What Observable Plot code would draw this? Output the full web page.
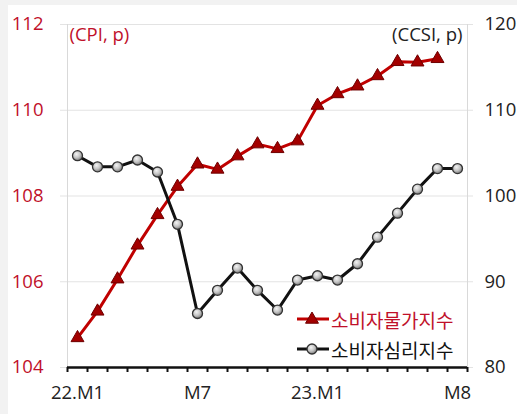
<!DOCTYPE html>
<html>
<head>
<meta charset="utf-8">
<script src="https://cdn.jsdelivr.net/npm/d3@7"></script>
<script src="https://cdn.jsdelivr.net/npm/@observablehq/plot@0.6"></script>
<style>
  html, body { margin: 0; padding: 0; background: #f2f2f2; width: 517px; height: 414px; overflow: hidden; }
  #wrap { position: absolute; left: 8px; top: 5px; width: 509px; height: 409px; background: #fff; }
  #legend { position: absolute; left: 289px; top: 304px; font-family: "Noto Sans CJK KR", sans-serif; font-size: 19px; }
  .row { display: flex; align-items: center; height: 30px; }
  .row svg { margin-right: 2px; }
</style>
</head>
<body>
<div id="wrap"></div>
<div id="legend"></div>
<script>
// ---- data ----
const months = ["22.M1","M2","M3","M4","M5","M6","M7","M8","M9","M10","M11","M12","23.M1","M2","M3","M4","M5","M6","M7","M8"];
const labelMonths = [0, 6, 12, 19];           // indices of months whose label is shown
const cpi  = [104.69,105.31,106.06,106.85,107.56,108.22,108.74,108.62,108.93,109.21,109.10,109.28,110.11,110.38,110.56,110.80,111.13,111.12,111.20,null];
const ccsi = [104.7,103.4,103.4,104.2,102.8,96.7,86.3,89.0,91.6,89.0,86.7,90.2,90.7,90.2,92.1,95.2,98.0,100.8,103.2,103.2];
const leftTicks  = [104,106,108,110,112];
const rightTicks = [80,90,100,110,120];
const seriesNames = ["소비자물가지수","소비자심리지수"];
const unitLabels = ["(CPI, p)","(CCSI, p)"];

const RED = "#c00000";
const RED_TXT = "#c0102a";
// map right-axis (CCSI) values onto the left (CPI) scale
const r2l = v => leftTicks[0] + (v - rightTicks[0]) * (leftTicks[4]-leftTicks[0]) / (rightTicks[4]-rightTicks[0]);

const cpiRows  = cpi.map((v,i) => ({i, v})).filter(d => d.v != null);
const ccsiRows = ccsi.map((v,i) => ({i, v: r2l(v)}));
const boundaries = d3.range(months.length + 1).map(k => k - 0.5);

const chart = Plot.plot({
  width: 509, height: 409,
  marginLeft: 59, marginRight: 50, marginTop: 19, marginBottom: 47,
  x: {type: "linear", domain: [-0.5, months.length - 0.5], axis: null},
  y: {domain: [leftTicks[0], leftTicks[4]], axis: null},
  style: {fontFamily: "'Open Sans', 'Noto Sans CJK KR', sans-serif", fontSize: "18.5px", background: "white", overflow: "visible"},
  marks: [
    Plot.ruleY(leftTicks.slice(1), {stroke: "#e3e3e3", strokeWidth: 1}),
    Plot.ruleX([boundaries[0], boundaries[boundaries.length-1]], {stroke: "#d9d9d9", strokeWidth: 1}),
    Plot.axisY({anchor: "left", ticks: leftTicks, tickSize: 7, tickPadding: 17, stroke: "#e3e3e3", fill: RED_TXT, label: null}),
    Plot.axisY({anchor: "right", ticks: leftTicks, tickFormat: (d,k) => rightTicks[k], tickSize: 5, tickPadding: 12, stroke: "#e3e3e3", fill: "#222", label: null}),
    Plot.axisX({ticks: boundaries, tickSize: 5, tickFormat: () => "", stroke: "#111", strokeWidth: 2, label: null}),
    Plot.axisX({ticks: labelMonths, tickFormat: i => months[i], tickSize: 0, tickPadding: 18, fill: "#222", label: null}),
    Plot.ruleY([leftTicks[0]], {stroke: "#111", strokeWidth: 2.5}),
    Plot.line(cpiRows, {x: "i", y: "v", stroke: RED, strokeWidth: 3}),
    Plot.dot(cpiRows, {x: "i", y: "v", symbol: "triangle", r: 4.8, fill: "#a30000", stroke: "#6e0000", strokeWidth: 1}),
    Plot.line(ccsiRows, {x: "i", y: "v", stroke: "#111", strokeWidth: 3}),
    Plot.dot(ccsiRows, {x: "i", y: "v", symbol: "circle", r: 5, fill: "#999999", stroke: "#333", strokeWidth: 1.3}),
    Plot.text([unitLabels[0]], {frameAnchor: "top-left", textAnchor: "start", lineAnchor: "middle", dx: 2, dy: 11, fill: RED_TXT, fontSize: 18.5}),
    Plot.text([unitLabels[1]], {frameAnchor: "top-right", textAnchor: "end", lineAnchor: "middle", dx: -5, dy: 11, fill: "#222", fontSize: 18.5})
  ]
});

// radial gradient for the grey ball markers
const defs = d3.select(chart).insert("defs", ":first-child");
const g = defs.append("radialGradient").attr("id", "ballGrad").attr("cx", "40%").attr("cy", "35%").attr("r", "65%");
g.append("stop").attr("offset", "0%").attr("stop-color", "#f4f4f4");
g.append("stop").attr("offset", "55%").attr("stop-color", "#c4c4c4");
g.append("stop").attr("offset", "100%").attr("stop-color", "#7c7c7c");
chart.querySelectorAll('g[aria-label="dot"]').forEach(gr => {
  if (gr.querySelector("circle")) gr.setAttribute("fill", "url(#ballGrad)");
});
document.getElementById("wrap").appendChild(chart);

// legend
const legend = d3.select("#legend");
const r1 = legend.append("div").attr("class", "row");
const s1 = r1.append("svg").attr("width", 40).attr("height", 16);
s1.append("line").attr("x1", 8).attr("x2", 40).attr("y1", 8).attr("y2", 8).attr("stroke", RED).attr("stroke-width", 3);
s1.append("path").attr("d", d3.symbol(d3.symbolTriangle, Math.PI*4.8*4.8)()).attr("transform", "translate(23,8.5)").attr("fill", "#a30000").attr("stroke", "#6e0000");
r1.append("span").style("color", RED_TXT).text(seriesNames[0]);
const r2 = legend.append("div").attr("class", "row");
const s2 = r2.append("svg").attr("width", 40).attr("height", 16);
s2.append("line").attr("x1", 8).attr("x2", 40).attr("y1", 8).attr("y2", 8).attr("stroke", "#111").attr("stroke-width", 3);
s2.append("circle").attr("cx", 23).attr("cy", 8).attr("r", 5).attr("fill", "url(#ballGrad)").attr("stroke", "#333").attr("stroke-width", 1.3);
r2.append("span").style("color", "#111").text(seriesNames[1]);
</script>
</body>
</html>
